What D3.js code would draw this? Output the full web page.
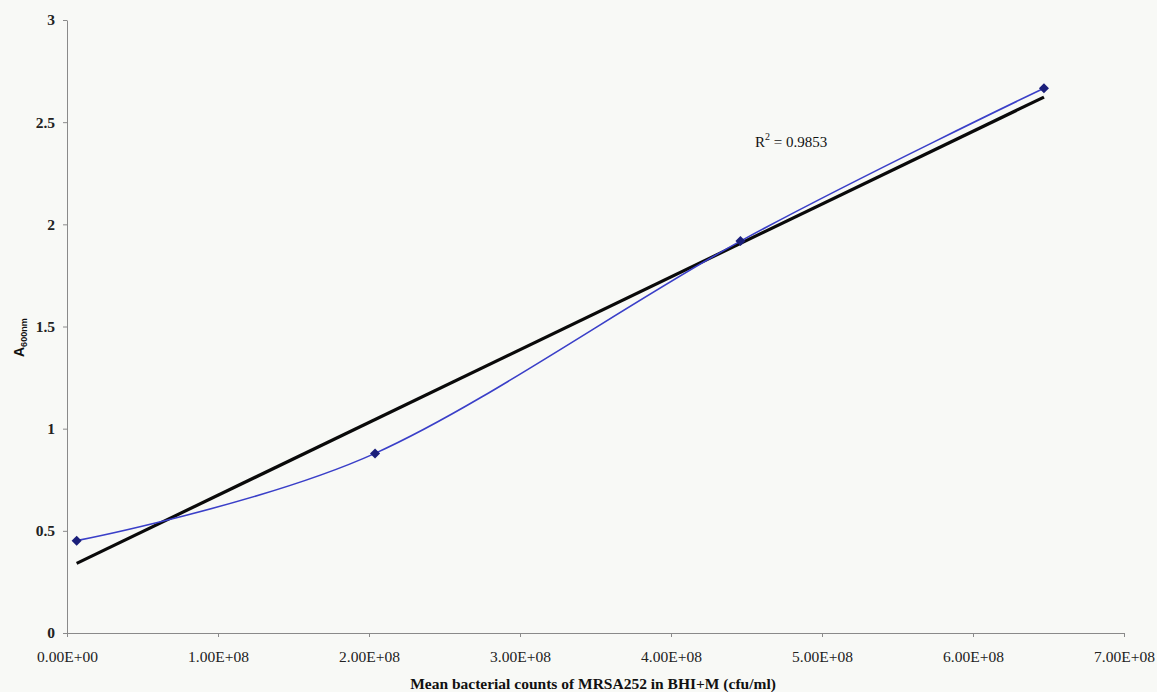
<!DOCTYPE html>
<html>
<head>
<meta charset="utf-8">
<script src="https://cdn.jsdelivr.net/npm/d3@7"></script>
<style>
  html, body { margin: 0; padding: 0; background: #f8f9f6; }
  svg { display: block; }
</style>
</head>
<body>
<svg id="chart" width="1157" height="692"></svg>
<script>
// Mean bacterial counts (cfu/ml) and absorbance readings
const counts = [6.4e6, 2.04e8, 4.46e8, 6.47e8];
const absorbance = [0.452, 0.879, 1.918, 2.666];
const xTicks = [0, 1e8, 2e8, 3e8, 4e8, 5e8, 6e8, 7e8];
const xTickLabels = ["0.00E+00", "1.00E+08", "2.00E+08", "3.00E+08", "4.00E+08", "5.00E+08", "6.00E+08", "7.00E+08"];
const yTicks = [0, 0.5, 1, 1.5, 2, 2.5, 3];
const yTickLabels = ["0", "0.5", "1", "1.5", "2", "2.5", "3"];
const r2Label = "0.9853";

const svg = d3.select("#chart");
const serif = "'Liberation Serif', 'Times New Roman', serif";

const x = d3.scaleLinear().domain([0, 7e8]).range([67, 1124]);
const y = d3.scaleLinear().domain([0, 3]).range([633, 20]);

// Axes
const xAxis = d3.axisBottom(x).tickValues(xTicks).tickSize(4).tickSizeOuter(0)
  .tickFormat((d, i) => xTickLabels[i]);
const gx = svg.append("g").attr("transform", `translate(0,${y(0)})`).call(xAxis);
gx.select(".domain").attr("stroke", "#8a8a8a");
gx.selectAll(".tick line").attr("stroke", "#8a8a8a");
gx.selectAll(".tick text").attr("font-family", serif).attr("font-size", 15.5)
  .attr("fill", "#222").attr("dy", "0.71em").attr("y", 18);

const yAxis = d3.axisLeft(y).tickValues(yTicks).tickSize(4).tickSizeOuter(0)
  .tickFormat((d, i) => yTickLabels[i]);
const gy = svg.append("g").attr("transform", `translate(${x(0)},0)`).call(yAxis);
gy.select(".domain").attr("stroke", "#8a8a8a");
gy.selectAll(".tick line").attr("stroke", "#8a8a8a");
gy.selectAll(".tick text").attr("font-family", serif).attr("font-size", 15.5)
  .attr("font-weight", "bold").attr("fill", "#222").attr("x", -12);

// Axis titles
svg.append("text")
  .attr("x", 593).attr("y", 689)
  .attr("text-anchor", "middle")
  .attr("font-family", serif).attr("font-size", 15.5).attr("font-weight", "bold")
  .attr("fill", "#111")
  .text("Mean bacterial counts of  MRSA252 in BHI+M (cfu/ml)");

const yTitle = svg.append("text")
  .attr("transform", "translate(24,357) rotate(-90)")
  .attr("font-family", "'Liberation Sans', Arial, sans-serif").attr("font-weight", "bold")
  .attr("fill", "#111");
yTitle.append("tspan").attr("font-size", 14).text("A");
yTitle.append("tspan").attr("font-size", 9).attr("dy", 3).text("600nm");

// Linear trend line (least squares)
const mx = d3.mean(counts), my = d3.mean(absorbance);
const sxy = d3.sum(counts, (c, i) => (c - mx) * (absorbance[i] - my));
const sxx = d3.sum(counts, c => (c - mx) * (c - mx));
const slope = sxy / sxx, intercept = my - slope * mx;
const xMin = d3.min(counts), xMax = d3.max(counts);
svg.append("line")
  .attr("x1", x(xMin)).attr("y1", y(intercept + slope * xMin))
  .attr("x2", x(xMax)).attr("y2", y(intercept + slope * xMax))
  .attr("stroke", "#0a0a0a").attr("stroke-width", 3.2);

// Smoothed data series
const pts = counts.map((c, i) => [c, absorbance[i]]);
const line = d3.line().x(d => x(d[0])).y(d => y(d[1])).curve(d3.curveCatmullRom.alpha(0));
svg.append("path").datum(pts)
  .attr("d", line)
  .attr("fill", "none").attr("stroke", "#3a3fc8").attr("stroke-width", 1.6);

// Diamond markers
svg.selectAll(".marker").data(pts).enter().append("path")
  .attr("class", "marker")
  .attr("transform", d => `translate(${x(d[0])},${y(d[1])})`)
  .attr("d", d3.symbol().type(d3.symbolDiamond2).size(64))
  .attr("fill", "#1b1f7a");

// R-squared annotation
const r2 = svg.append("text")
  .attr("x", 755).attr("y", 147)
  .attr("font-family", serif).attr("font-size", 15).attr("fill", "#111");
r2.append("tspan").text("R");
r2.append("tspan").attr("font-size", 10).attr("dy", -7).text("2");
r2.append("tspan").attr("dy", 7).text(" = " + r2Label);
</script>
</body>
</html>
